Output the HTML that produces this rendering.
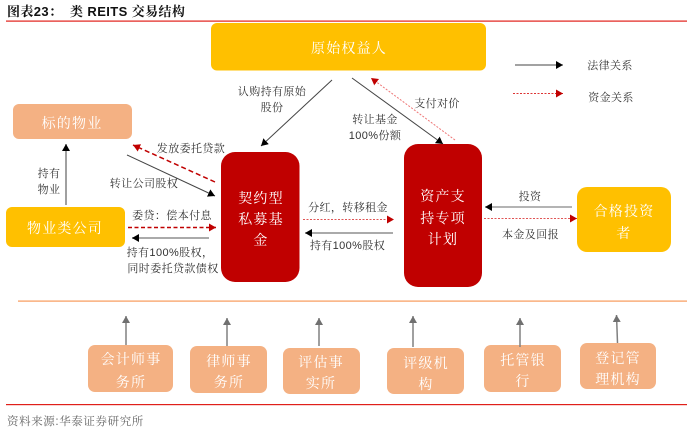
<!DOCTYPE html>
<html><head><meta charset="utf-8">
<style>
html,body{margin:0;padding:0;background:#fff}
svg{display:block}
text{font-family:"Liberation Sans","Noto Serif CJK SC",serif}
.l{font-size:11px;fill:#333;text-anchor:middle;letter-spacing:.4px}
.w{font-size:14px;fill:#fff;text-anchor:middle;letter-spacing:1.2px}
.o{font-size:14px;fill:#fff;text-anchor:middle;letter-spacing:1.2px}
</style></head><body>
<svg width="700" height="431" viewBox="0 0 700 431" xmlns="http://www.w3.org/2000/svg">
<defs>
<marker id="k" markerUnits="userSpaceOnUse" markerWidth="9" markerHeight="9" refX="7" refY="4" orient="auto"><path d="M0 0L7 4L0 8z" fill="#000"/></marker>
<marker id="r" markerUnits="userSpaceOnUse" markerWidth="9" markerHeight="9" refX="7" refY="4" orient="auto"><path d="M0 0L7 4L0 8z" fill="#c00000"/></marker>
<marker id="g" markerUnits="userSpaceOnUse" markerWidth="9" markerHeight="9" refX="7" refY="4" orient="auto"><path d="M0 0L7 4L0 8z" fill="#707070"/></marker>
</defs>
<text x="7" y="16" style="font-size:13px;font-weight:700;fill:#111;letter-spacing:.4px">图表23：</text>
<text x="70" y="16" style="font-size:13px;font-weight:700;fill:#111;letter-spacing:.4px">类 REITS 交易结构</text>
<rect x="6" y="20.5" width="681" height="1.2" fill="#e0201a"/>
<rect x="18" y="300.5" width="669" height="1.2" fill="#f79a5a"/>
<rect x="6" y="404" width="681" height="1.2" fill="#e0201a"/>

<rect x="211" y="23" width="275" height="47.5" rx="6" fill="#ffc000"/>
<rect x="13" y="104" width="119" height="35" rx="6" fill="#f4b183"/>
<rect x="6" y="207" width="119" height="40" rx="6" fill="#ffc000"/>
<rect x="221" y="152" width="78.5" height="130" rx="14" fill="#c00000"/>
<rect x="404" y="144" width="78" height="143" rx="14" fill="#c00000"/>
<rect x="577" y="187" width="94" height="65" rx="10" fill="#ffc000"/>
<rect x="88" y="345" width="85" height="47" rx="7" fill="#f4b183"/>
<rect x="190" y="346" width="77" height="47" rx="7" fill="#f4b183"/>
<rect x="283" y="348" width="77" height="46" rx="7" fill="#f4b183"/>
<rect x="387" y="348" width="77" height="46" rx="7" fill="#f4b183"/>
<rect x="484" y="345" width="77" height="47" rx="7" fill="#f4b183"/>
<rect x="580" y="343" width="76" height="46" rx="7" fill="#f4b183"/>

<text class="w" x="349" y="53">原始权益人</text>
<text class="w" x="72" y="128">标的物业</text>
<text class="w" x="65" y="233">物业类公司</text>
<text class="w" x="261" y="203">契约型</text>
<text class="w" x="261" y="224">私募基</text>
<text class="w" x="261" y="245">金</text>
<text class="o" x="443" y="201">资产支</text>
<text class="o" x="443" y="223">持专项</text>
<text class="o" x="443" y="244">计划</text>
<text class="w" x="624" y="216">合格投资</text>
<text class="w" x="624" y="238">者</text>
<text class="o" x="131" y="364">会计师事</text>
<text class="o" x="131" y="387">务所</text>
<text class="o" x="229" y="366">律师事</text>
<text class="o" x="229" y="387">务所</text>
<text class="o" x="321" y="367">评估事</text>
<text class="o" x="321" y="388">实所</text>
<text class="o" x="426" y="368">评级机</text>
<text class="o" x="426" y="389">构</text>
<text class="o" x="523" y="365">托管银</text>
<text class="o" x="523" y="386">行</text>
<text class="o" x="618" y="363">登记管</text>
<text class="o" x="618" y="384">理机构</text>

<g fill="none" stroke-width="1">
<path d="M332 80L261 146" stroke="#444" marker-end="url(#k)"/>
<path d="M352 78L443 144" stroke="#444" marker-end="url(#k)"/>
<path d="M455 140L371 78" stroke="#ee7777" stroke-dasharray="2 1.5" marker-end="url(#r)"/>
<path d="M515 65H563" stroke="#444" marker-end="url(#k)"/>
<path d="M513 93.500H563" stroke="#dd3333" stroke-dasharray="2 1.500" marker-end="url(#r)"/>
<path d="M66 205V144" stroke="#808080" stroke-width="1.500" marker-end="url(#k)"/>
<path d="M215 182L133 145" stroke="#c00000" stroke-width="1.500" stroke-dasharray="5 3" marker-end="url(#r)"/>
<path d="M127 155L215 196" stroke="#444" marker-end="url(#k)"/>
<path d="M128 227.500H216" stroke="#c00000" stroke-width="1.500" stroke-dasharray="4 2.500" marker-end="url(#r)"/>
<path d="M209 238H132" stroke="#aaa" stroke-width="2" marker-end="url(#k)"/>
<path d="M303 219.500H394" stroke="#e05555" stroke-dasharray="2 1.500" marker-end="url(#r)"/>
<path d="M393 233H305" stroke="#777" stroke-width="1.200" marker-end="url(#k)"/>
<path d="M572 207H485" stroke="#888" stroke-width="1.200" marker-end="url(#k)"/>
<path d="M484 218.500H577" stroke="#e05555" stroke-dasharray="2 1.500" marker-end="url(#r)"/>
<path d="M126 345V316" stroke="#808080" stroke-width="1.500" marker-end="url(#g)"/>
<path d="M227 346V318" stroke="#808080" stroke-width="1.500" marker-end="url(#g)"/>
<path d="M319 346V318" stroke="#808080" stroke-width="1.500" marker-end="url(#g)"/>
<path d="M413 347V316" stroke="#808080" stroke-width="1.500" marker-end="url(#g)"/>
<path d="M520 347V318" stroke="#808080" stroke-width="1.500" marker-end="url(#g)"/>
<path d="M617.500 343L616.500 315" stroke="#808080" stroke-width="1.500" marker-end="url(#g)"/>
</g>

<text class="l" x="272" y="95">认购持有原始</text>
<text class="l" x="272" y="111">股份</text>
<text class="l" x="375" y="123">转让基金</text>
<text class="l" x="375" y="139">100%份额</text>
<text class="l" x="437" y="107">支付对价</text>
<text class="l" x="610" y="69">法律关系</text>
<text class="l" x="611" y="101">资金关系</text>
<text class="l" x="49" y="177">持有</text>
<text class="l" x="49" y="193">物业</text>
<text class="l" x="191" y="152">发放委托贷款</text>
<text class="l" x="144" y="187">转让公司股权</text>
<text class="l" x="172" y="219">委贷：偿本付息</text>
<text class="l" x="170" y="256">持有100%股权，</text>
<text class="l" x="173" y="272">同时委托贷款债权</text>
<text class="l" x="348" y="211">分红，转移租金</text>
<text class="l" x="347.500" y="249">持有100%股权</text>
<text class="l" x="530" y="200">投资</text>
<text class="l" x="530.500" y="238">本金及回报</text>
<text x="7" y="425" style="font-size:11.5px;fill:#666;letter-spacing:.6px">资料来源:华泰证券研究所</text>
</svg>
</body></html>
